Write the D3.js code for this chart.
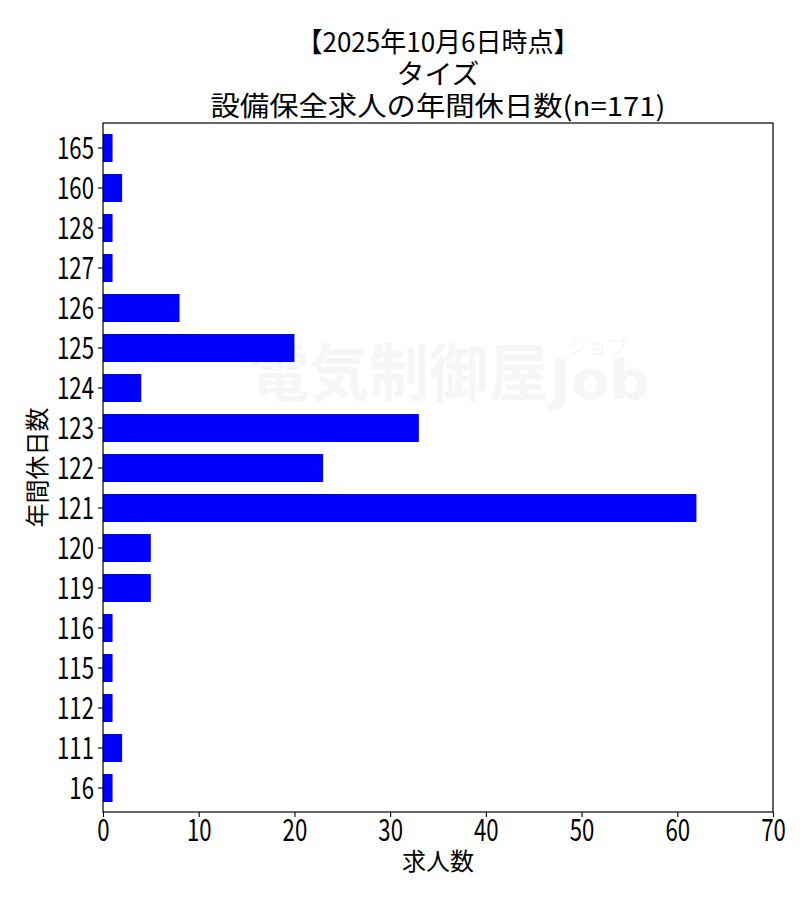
<!DOCTYPE html>
<html><head><meta charset="utf-8">
<script src="https://cdn.jsdelivr.net/npm/d3@7"></script>
<style>html,body{margin:0;padding:0;background:#fff}</style>
</head><body>
<svg id="chart" width="800" height="900"></svg>
<script>
const categories = ["165","160","128","127","126","125","124","123","122","121","120","119","116","115","112","111","16"];
const values = [1,2,1,1,8,20,4,33,23,62,5,5,1,1,1,2,1];
const xTicks = [0,10,20,30,40,50,60,70];
const titleLines = ["【2025年10月6日時点】","タイズ","設備保全求人の年間休日数(n=171)"];
const titleWidths = [283, 83, 455];
const xLabel = "求人数";
const yLabel = "年間休日数";

const FONT = "'Noto Sans CJK JP', 'Noto Sans', sans-serif";
const svg = d3.select("#chart");
const L = 103, R = 773, T = 123, B = 812;
const SX = 0.74;

const x = d3.scaleLinear().domain([0,70]).range([L,R]);
const y = d3.scaleBand().domain(categories).range([128,808]).paddingInner(0.3).paddingOuter(0.15);

// watermark (single text element)
const wm = svg.append("text").attr("fill","#f6f6f6").style("font-family",FONT);
wm.append("tspan").attr("x",250).attr("y",396).attr("font-size",62).attr("font-weight",700)
  .attr("textLength",298).attr("lengthAdjust","spacingAndGlyphs").text("電気制御屋");
wm.append("tspan").attr("x",550).attr("y",399).attr("font-size",56).attr("font-weight",900)
  .style("font-family","'DejaVu Sans', sans-serif").attr("textLength",100).attr("lengthAdjust","spacingAndGlyphs").text("Job");
wm.append("tspan").attr("x",567).attr("y",354).attr("font-size",21)
  .attr("textLength",61).attr("lengthAdjust","spacingAndGlyphs").text("ジョブ");

// bars
svg.append("g").selectAll("rect").data(categories).join("rect")
  .attr("x", x(0))
  .attr("y", d => y(d))
  .attr("width", (d,i) => x(values[i]) - x(0))
  .attr("height", y.bandwidth())
  .attr("fill", "#0000ff");

// frame
svg.append("rect").attr("x",L).attr("y",T).attr("width",R-L).attr("height",B-T)
  .attr("fill","none").attr("stroke","#000").attr("stroke-width",1.2);

// x axis
const xa = svg.append("g").attr("transform",`translate(0,${B})`)
  .call(d3.axisBottom(x).tickValues(xTicks).tickSize(5).tickSizeOuter(0).tickFormat(d3.format("d")));
xa.select(".domain").remove();
xa.selectAll("line").attr("stroke","#000").attr("stroke-width",1.1);
xa.selectAll("text").attr("font-family",FONT).attr("font-size",30).attr("fill","#000")
  .attr("y",0).attr("dy",0)
  .attr("transform",`translate(0,29) scale(${SX},1)`);

// y axis
const ya = svg.append("g").attr("transform",`translate(${L},0)`)
  .call(d3.axisLeft(y).tickSize(5).tickSizeOuter(0));
ya.select(".domain").remove();
ya.selectAll("line").attr("stroke","#000").attr("stroke-width",1.1);
ya.selectAll("text").attr("font-family",FONT).attr("font-size",30).attr("fill","#000")
  .attr("x",0).attr("dy","0.36em")
  .attr("transform",`translate(-9,0) scale(${SX},1)`);

// title (single text element, one tspan per line)
const cx = (L+R)/2;
const title = svg.append("text").attr("text-anchor","middle").attr("font-family",FONT)
  .attr("font-size",27).attr("fill","#000");
title.selectAll("tspan").data(titleLines).join("tspan")
  .attr("x",cx).attr("y",(d,i)=>52+i*32)
  .attr("textLength",(d,i)=>titleWidths[i]).attr("lengthAdjust","spacingAndGlyphs")
  .text(d=>d);

// axis labels
svg.append("text").attr("x",cx).attr("y",870).attr("text-anchor","middle")
  .attr("font-family",FONT).attr("font-size",24).attr("fill","#000").text(xLabel);
svg.append("text").attr("transform",`translate(46,${(T+B)/2}) rotate(-90)`).attr("text-anchor","middle")
  .attr("font-family",FONT).attr("font-size",24).attr("fill","#000").text(yLabel);
</script>
</body></html>
